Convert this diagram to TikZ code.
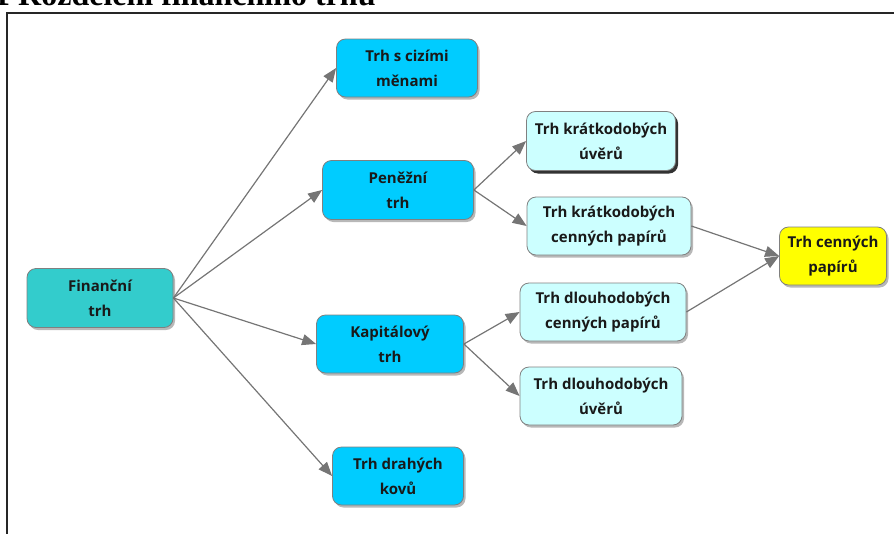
\documentclass[tikz,border=0pt]{standalone}
\usepackage{fontspec}
\setmainfont{Open Sans}
\newfontfamily\titlefont{Liberation Serif}
\usetikzlibrary{arrows.meta,shadows}
\definecolor{tealbox}{HTML}{33CCCC}
\definecolor{bluebox}{HTML}{00CCFF}
\definecolor{cyanbox}{HTML}{CCFFFF}
\definecolor{yellowbox}{HTML}{FFFF00}
\definecolor{edgegray}{HTML}{757575}
\tikzset{
  box/.style={draw=gray, line width=0.8pt, rounded corners=9pt, inner sep=0pt,
    minimum height=58pt, align=center, text=black!90,
    font=\fontsize{15}{25}\selectfont\bfseries,
    drop shadow={shadow xshift=2pt, shadow yshift=-2.5pt, fill=gray!70, opacity=0.8}},
  darkshadow/.style={drop shadow={shadow xshift=2.5pt, shadow yshift=-3pt, fill=black!80, opacity=1}},
  conn/.style={draw=edgegray, line width=1.2pt, -{Triangle[length=14pt,width=11pt]}}
}
\begin{document}
\begin{tikzpicture}[x=1pt,y=-1pt]
\useasboundingbox (0,0) rectangle (894,533);
\begin{scope}
\clip (0,0) rectangle (894,533);
\node[anchor=base west, font=\titlefont\fontsize{32}{34}\selectfont\bfseries, inner sep=0pt] (title) at (-6,5) {1 Rozdělení finančního trhu};
\draw[line width=2pt, black!85] (7,560) -- (7,13) -- (910,13);
\end{scope}

\node[box, fill=tealbox, minimum width=146pt, minimum height=59pt] (fin) at (100,298) {Finanční\\trh};
\node[box, fill=bluebox, minimum width=141pt] (ciz) at (407,68) {Trh s cizími\\měnami};
\node[box, fill=bluebox, minimum width=151pt, minimum height=59pt] (pen) at (398,190) {Peněžní\\trh};
\node[box, fill=bluebox, minimum width=147pt] (kap) at (390,344) {Kapitálový\\trh};
\node[box, fill=bluebox, minimum width=131pt] (kov) at (398,476) {Trh drahých\\kovů};
\node[box, darkshadow, fill=cyanbox, minimum width=149pt, minimum height=59pt] (kuv) at (601,141) {Trh krátkodobých\\úvěrů};
\node[box, fill=cyanbox, minimum width=164pt] (kcp) at (609,226) {Trh krátkodobých\\cenných papírů};
\node[box, fill=cyanbox, minimum width=166pt] (dcp) at (603,312) {Trh dlouhodobých\\cenných papírů};
\node[box, fill=cyanbox, minimum width=162pt] (duv) at (601,396) {Trh dlouhodobých\\úvěrů};
\node[box, fill=yellowbox, minimum width=107pt] (tcp) at (833,256) {Trh cenných\\papírů};

\draw[conn] (fin.east) -- (ciz.west);
\draw[conn] (fin.east) -- (pen.west);
\draw[conn] (fin.east) -- (kap.west);
\draw[conn] (fin.east) -- (kov.west);
\draw[conn] (pen.east) -- (kuv.west);
\draw[conn] (pen.east) -- (kcp.west);
\draw[conn] (kap.east) -- (dcp.west);
\draw[conn] (kap.east) -- (duv.west);
\draw[conn] (kcp.east) -- (tcp.west);
\draw[conn] (dcp.east) -- (tcp.west);
\end{tikzpicture}
\end{document}
